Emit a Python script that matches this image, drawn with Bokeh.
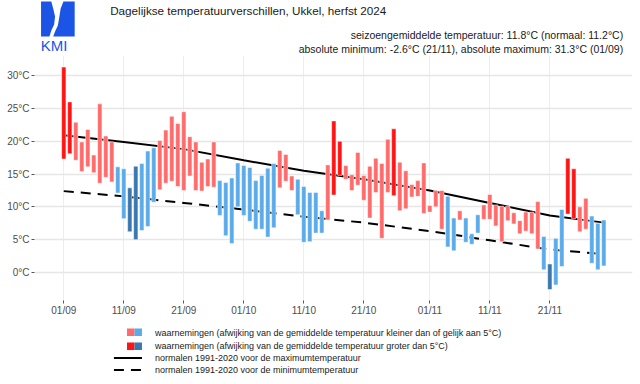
from bokeh.plotting import figure
from bokeh.layouts import column
from bokeh.models import Range1d, FixedTicker, ColumnDataSource
from bokeh.core.properties import value
from bokeh.embed import file_html
from bokeh.resources import INLINE

FONT = "Liberation Sans"

# ---------------- data ----------------
# day index 0 = 01/09/2024 ... 90 = 30/11/2024
days = list(range(91))
tmax = [31.3, 26.0, 22.9, 19.9, 21.8, 17.9, 25.7, 20.8, 19.9, 16.1,
        15.8, 12.9, 16.2, 16.6, 18.5, 19.0, 20.1, 21.7, 23.8, 22.7,
        24.5, 20.7, 19.9, 16.8, 17.3, 19.9, 14.0, 13.7, 14.4, 16.7,
        16.3, 16.0, 14.0, 14.8, 15.9, 16.6, 18.6, 18.0, 14.7, 14.2,
        13.1, 12.2, 12.2, 9.4, 16.4, 23.1, 20.0, 16.3, 14.9, 18.3,
        14.8, 16.2, 17.4, 16.6, 20.3, 21.9, 16.8, 15.5, 13.4, 14.0,
        16.7, 10.2, 12.5, 12.5, 11.6, 8.3, 9.4, 8.3, 5.9, 8.8,
        10.3, 11.9, 10.3, 10.1, 10.1, 9.1, 7.9, 9.2, 9.2, 10.8,
        5.5, 1.3, 5.2, 9.6, 17.4, 15.8, 10.0, 11.3, 8.6, 7.5,
        8.0]
tmin = [17.3, 18.1, 17.1, 15.4, 16.1, 15.2, 13.6, 14.5, 13.8, 12.1,
        8.2, 6.2, 5.0, 6.4, 7.0, 10.7, 12.6, 13.6, 13.9, 13.1,
        12.5, 14.7, 12.5, 12.4, 13.1, 13.0, 8.7, 5.6, 4.4, 10.0,
        8.7, 7.8, 6.6, 6.6, 5.4, 6.8, 12.9, 13.9, 12.5, 8.8,
        4.6, 4.7, 6.0, 6.0, 8.0, 11.8, 14.8, 14.2, 12.5, 13.3,
        11.0, 8.3, 12.2, 5.2, 12.2, 11.7, 9.4, 9.7, 11.5, 11.6,
        9.0, 9.2, 10.0, 6.6, 3.9, 3.3, 8.0, 4.6, 4.3, 6.0,
        8.1, 8.1, 7.1, 4.7, 7.9, 7.4, 5.9, 6.3, 5.9, 3.6,
        0.4, -2.6, -1.9, 0.9, 8.9, 8.2, 6.2, 6.6, 1.4, 0.4,
        1.0]
# r = warmer (<=5 deg), R = warmer (>5 deg), b = colder (<=5 deg), B = colder (>5 deg)
klass = ["R", "R", "r", "r", "r", "r", "r", "r", "r", "b",
         "b", "B", "B", "b", "b", "b", "r", "r", "r", "r",
         "r", "r", "r", "r", "r", "r", "b", "b", "b", "b",
         "b", "b", "b", "b", "b", "b", "r", "r", "r", "b",
         "b", "b", "b", "b", "r", "R", "R", "r", "r", "r",
         "r", "r", "r", "r", "r", "R", "r", "r", "r", "r",
         "r", "r", "r", "r", "b", "b", "r", "b", "b", "b",
         "r", "r", "r", "r", "r", "r", "r", "r", "r", "r",
         "b", "B", "b", "b", "R", "R", "r", "r", "b", "b",
         "b"]

norm_days = [0, 10, 20, 30, 40, 50, 61, 71, 81, 90]
norm_max = [20.9, 19.9, 18.8, 17.1, 15.5, 14.2, 12.5, 10.6, 8.7, 7.6]
norm_min = [12.4, 11.6, 10.6, 9.6, 8.5, 7.6, 6.3, 4.9, 3.5, 2.8]

tick_days = [0, 10, 20, 30, 40, 50, 61, 71, 81]
tick_labels = ["01/09", "11/09", "21/09", "01/10", "11/10", "21/10", "01/11", "11/11", "21/11"]
y_ticks = [0, 5, 10, 15, 20, 25, 30]
y_labels = ["0°C", "5°C", "10°C", "15°C", "20°C", "25°C", "30°C"]

title = "Dagelijkse temperatuurverschillen, Ukkel, herfst 2024"
sub1 = "seizoengemiddelde temperatuur: 11.8°C (normaal: 11.2°C)"
sub2 = "absolute minimum: -2.6°C (21/11), absolute maximum: 31.3°C (01/09)"
legend_texts = [
    "waarnemingen (afwijking van de gemiddelde temperatuur kleiner dan of gelijk aan 5°C)",
    "waarnemingen (afwijking van de gemiddelde temperatuur groter dan 5°C)",
    "normalen 1991-2020 voor de maximumtemperatuur",
    "normalen 1991-2020 voor de minimumtemperatuur",
]

# ---------------- styles ----------------
COLORS = {"r": "#FF6B6B", "R": "#FF1414", "b": "#5AABEA", "B": "#3A77AE"}
LOGO_BLUE = "#1C55E6"
AXIS_TEXT = "#4D4D4D"
DASH = "10 7"
W = 640


def blank(fig):
    fig.outline_line_color = None
    fig.background_fill_color = "white"
    fig.border_fill_color = "white"
    fig.grid.visible = False
    return fig


# ---------------- header ----------------
h = figure(width=W, height=55, x_range=Range1d(0, W), y_range=Range1d(55, 0),
           x_axis_type=None, y_axis_type=None, output_backend="svg",
           toolbar_location=None, min_border_left=0, min_border_right=0,
           min_border_top=0, min_border_bottom=0)
blank(h)
h.patch([7, 18, 20, 22, 21, 18, 16, 7], [1, 1, 8, 16, 24, 30, 36, 36],
        fill_color=LOGO_BLUE, line_color=None)
h.patch([31, 43, 43, 20, 22, 25, 26.5, 28], [1, 1, 36, 36, 31, 25, 17, 8],
        fill_color=LOGO_BLUE, line_color=None)
h.text(x=[21], y=[44.5], text=["KMI"], text_font=value(FONT), text_font_size="15px",
       text_align="center", text_baseline="middle", text_color=LOGO_BLUE)
h.text(x=[81], y=[9.5], text=[title], text_font=value(FONT), text_font_size="11.7px",
       text_align="left", text_baseline="middle", text_color="#1A1A1A")
h.text(x=[630, 630], y=[34.5, 48.5], text=[sub1, sub2], text_font=value(FONT),
       text_font_size="10.5px", text_align="right", text_baseline="middle",
       text_color="#1A1A1A")

# ---------------- main chart ----------------
p = figure(width=W, height=265, x_range=Range1d(-4.88, 94.78),
           y_range=Range1d(-4.27, 33.07), output_backend="svg",
           toolbar_location=None, min_border_left=34, min_border_right=8,
           min_border_top=0, min_border_bottom=20)
p.outline_line_color = None
p.background_fill_color = "white"
p.border_fill_color = "white"

# normals drawn first: the bars cover them, so they show only between bars
p.line(norm_days, norm_max, line_color="black", line_width=2)
p.line(norm_days, norm_min, line_color="black", line_width=2, line_dash=DASH)

src = ColumnDataSource(dict(day=days, tmax=tmax, tmin=tmin,
                            color=[COLORS[k] for k in klass]))
p.vbar(x="day", bottom="tmin", top="tmax", width=0.72, fill_color="color",
       line_color="white", line_width=0.5, source=src)

p.xaxis.ticker = FixedTicker(ticks=tick_days)
p.xaxis.major_label_overrides = {d: l for d, l in zip(tick_days, tick_labels)}
p.yaxis.ticker = FixedTicker(ticks=y_ticks)
p.yaxis.major_label_overrides = {t: l for t, l in zip(y_ticks, y_labels)}
for ax in (p.xaxis, p.yaxis):
    ax.axis_line_color = None
    ax.minor_tick_line_color = None
    ax.major_tick_line_color = "#555555"
    ax.major_tick_out = 3
    ax.major_tick_in = 0
    ax.major_label_standoff = 2
    ax.major_label_text_font = FONT
    ax.major_label_text_font_size = "10px"
    ax.major_label_text_color = AXIS_TEXT
p.xaxis.major_label_standoff = 1
p.xgrid.grid_line_color = "#EDEDED"
p.xgrid.grid_line_width = 1
p.ygrid.grid_line_color = "#E6E6E6"
p.ygrid.grid_line_width = 1.4

# ---------------- legend ----------------
lg = figure(width=W, height=64, x_range=Range1d(0, W), y_range=Range1d(384, 320),
            x_axis_type=None, y_axis_type=None, output_backend="svg",
            toolbar_location=None, min_border_left=0, min_border_right=0,
            min_border_top=0, min_border_bottom=0)
blank(lg)
lg.quad(left=[99, 107, 99, 107], right=[107, 115, 107, 115],
        top=[328, 328, 342, 342], bottom=[335.5, 335.5, 349.5, 349.5],
        fill_color=[COLORS["r"], COLORS["b"], COLORS["R"], COLORS["B"]], line_color=None)
lg.line([85, 115], [357.5, 357.5], line_color="black", line_width=2)
lg.line([85, 115], [369.5, 369.5], line_color="black", line_width=2, line_dash=DASH)
lg.text(x=[129] * 4, y=[332, 345.5, 357.5, 369.5], text=legend_texts,
        text_font=value(FONT), text_font_size="9px", text_align="left",
        text_baseline="middle", text_color="#1A1A1A")

layout = column(h, p, lg, spacing=0)
open("out.html", "w").write(file_html(layout, INLINE))
